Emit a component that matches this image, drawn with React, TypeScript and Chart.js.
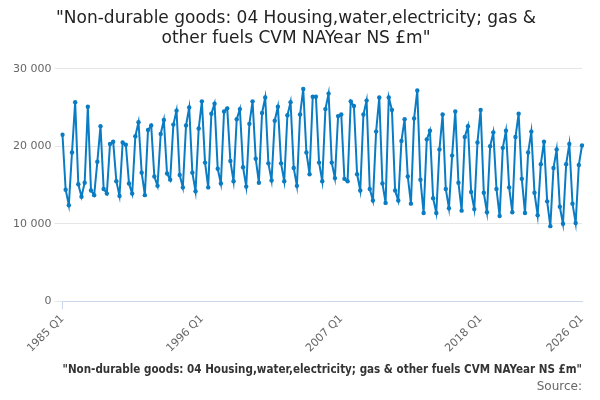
import React, { useEffect, useRef } from "react";
import { Chart, registerables } from "chart.js";
Chart.register(...registerables);

const values: number[] = [
21500,14400,12400,19200,25700,15100,13500,15300,25100,14300,13700,18000,22600,14500,13900,20300,20600,15500,13600,20500,20200,15200,13900,21300,23100,16600,13700,22100,22700,16100,14900,21600,23400,16500,15700,22800,24600,16300,14700,22700,25000,16600,14200,22300,25800,17900,14700,24200,25500,17100,15200,24500,24900,
18100,15500,23500,24800,17300,14800,22900,25800,18400,15300,24300,26300,17800,15600,23300,25100,17800,15500,24000,25700,17200,14900,24100,27400,19200,16400,26400,26400,17900,15500,24800,26800,17900,15900,23900,24100,15800,15500,25800,25200,16400,14300,24100,25900,14500,13000,21900,26300,15200,12700,26300,24700,14300,13000,20700,23500,
16100,12600,23600,27200,15700,11400,20900,22000,13300,11400,19600,24100,14500,12000,18800,24500,15300,11700,21200,22600,14100,11900,20500,24700,14000,11500,20000,21800,14500,11000,19800,22000,14700,11500,21200,24200,15800,11400,19200,21900,14000,11100,17700,20600,12900,9700,17200,19600,12200,10000,17700,20300,12600,10100,17600,20100
];
const startYear = 2026 - Math.floor((values.length - 1) / 4);
const categories: string[] = values.map((_, i) => `${startYear + Math.floor(i / 4)} Q${(i % 4) + 1}`);
const titleLines = ['"Non-durable goods: 04 Housing,water,electricity; gas &', 'other fuels CVM NAYear NS £m"'];
const axisTitle = '"Non-durable goods: 04 Housing,water,electricity; gas & other fuels CVM NAYear NS £m"';

export default function App() {
  const ref = useRef<HTMLCanvasElement>(null);
  useEffect(() => {
    const last = categories.length - 1;
    const shown = (i: number) => i === last || (i % 44 === 0 && last - i >= 20);
    const chart = new Chart(ref.current!, {
      type: "line",
      data: {
        labels: categories,
        datasets: [{
          data: values,
          borderColor: "#0a7cc4",
          backgroundColor: "#0a7cc4",
          borderWidth: 2,
          pointRadius: 2.2,
          pointBorderWidth: 0,
          pointHoverRadius: 2.2,
          tension: 0,
        }],
      },
      options: {
        animation: false,
        responsive: false,
        layout: { padding: { left: 10, right: 18, top: 0, bottom: 6 } },
        plugins: {
          legend: { display: false },
          tooltip: { enabled: false },
          title: { display: true, text: titleLines, color: "#222", font: { family: "DejaVu Sans", size: 17, weight: "normal" }, padding: { top: 8, bottom: 20 } },
          subtitle: { display: true, position: "bottom", align: "end", text: "Source:", color: "#666", font: { family: "DejaVu Sans", size: 12 }, padding: { top: 2, bottom: 0 } },
        },
        scales: {
          x: {
            grid: {
              display: true, drawOnChartArea: false, tickLength: 8,
              color: (c: any) => (c.index % 11 === 0 || c.index === last) ? "#ccd6eb" : "rgba(0,0,0,0)",
            },
            border: { color: "#ccd6eb" },
            ticks: {
              autoSkip: false, maxRotation: 45, minRotation: 45, color: "#666",
              font: { family: "DejaVu Sans", size: 11 },
              callback: (_v: any, i: number) => shown(i) ? categories[i] : null,
            },
            title: { display: true, text: axisTitle, color: "#333", font: { family: "DejaVu Sans", size: 13, weight: "bold" }, padding: { top: 4, bottom: 0 } },
          },
          y: {
            min: 0, max: 30000,
            border: { display: false },
            grid: { color: "#e6e6e6" },
            ticks: { stepSize: 10000, color: "#666", font: { family: "DejaVu Sans", size: 11 }, callback: (v: any) => Number(v).toLocaleString("en-US").replace(/,/g, " ") },
          },
        },
      },
    });
    return () => chart.destroy();
  }, []);
  return <canvas ref={ref} width={600} height={400} style={{ display: "block", margin: "-8px" }} />;
}
